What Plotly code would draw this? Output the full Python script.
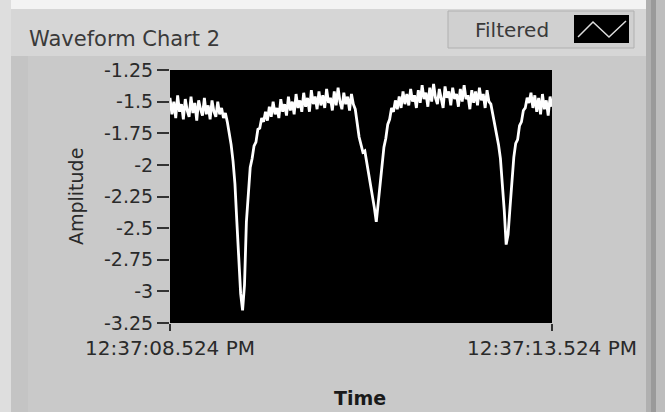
import plotly.graph_objects as go

# ---- data ----
t_step = 0.025
amplitude = [
    -1.47, -1.60, -1.50, -1.63, -1.45, -1.58, -1.52, -1.64, -1.48, -1.57,
    -1.62, -1.46, -1.59, -1.51, -1.65, -1.49, -1.56, -1.61, -1.47, -1.60,
    -1.53, -1.64, -1.49, -1.58, -1.62, -1.50, -1.60, -1.55, -1.63, -1.59,
    -1.66, -1.74, -1.84, -1.97, -2.15, -2.45, -2.80, -3.02, -3.15, -2.95,
    -2.45, -2.20, -2.02, -1.95, -1.85, -1.82, -1.72, -1.71, -1.63, -1.66,
    -1.58, -1.65, -1.54, -1.62, -1.50, -1.60, -1.55, -1.63, -1.48, -1.58,
    -1.52, -1.61, -1.46, -1.57, -1.50, -1.60, -1.44, -1.55, -1.49, -1.58,
    -1.43, -1.54, -1.47, -1.58, -1.41, -1.52, -1.46, -1.56, -1.42, -1.53,
    -1.45, -1.55, -1.40, -1.51, -1.47, -1.57, -1.42, -1.53, -1.39, -1.50,
    -1.56, -1.43, -1.52, -1.46, -1.57, -1.44, -1.52, -1.56, -1.66, -1.78,
    -1.84, -1.90, -1.89, -1.98, -2.04, -2.14, -2.22, -2.34, -2.45, -2.30,
    -2.12, -1.99, -1.86, -1.79, -1.68, -1.64, -1.55, -1.58, -1.49, -1.56,
    -1.46, -1.55, -1.42, -1.52, -1.44, -1.53, -1.40, -1.50, -1.45, -1.55,
    -1.41, -1.51, -1.37, -1.48, -1.43, -1.54, -1.39, -1.50, -1.36, -1.47,
    -1.52, -1.40, -1.49, -1.55, -1.38, -1.47, -1.42, -1.53, -1.39, -1.48,
    -1.44, -1.54, -1.40, -1.50, -1.37, -1.48, -1.45, -1.56, -1.41, -1.51,
    -1.42, -1.53, -1.39, -1.49, -1.44, -1.55, -1.41, -1.50, -1.52, -1.60,
    -1.65, -1.74, -1.84, -1.95, -2.14, -2.36, -2.63, -2.55, -2.34, -2.10,
    -1.94, -1.83, -1.80, -1.69, -1.66, -1.57, -1.55, -1.47, -1.51, -1.43,
    -1.55, -1.45, -1.58, -1.47, -1.60, -1.44, -1.56, -1.49, -1.61, -1.46,
    -1.54,
]
time_s = [round(i * t_step, 3) for i in range(len(amplitude))]

y_ticks = [-1.25, -1.5, -1.75, -2, -2.25, -2.5, -2.75, -3, -3.25]
y_tick_text = ["-1.25", "-1.5", "-1.75", "-2", "-2.25", "-2.5", "-2.75", "-3", "-3.25"]
x_ticks = [0, 5]
x_tick_text = ["12:37:08.524 PM", "12:37:13.524 PM"]

title_text = "Waveform Chart 2"
legend_text = "Filtered"
x_title = "Time"
y_title = "Amplitude"

# ---- layout geometry (pixels) ----
W, H = 665, 412
L, R, T, B = 170, 552, 70, 323
FONT = "DejaVu Sans"


def px(x):
    return (x - L) / (R - L)


def py(y):
    return (B - y) / (B - T)


fig = go.Figure()
fig.add_trace(go.Scatter(
    x=time_s, y=amplitude, mode="lines",
    line=dict(color="white", width=2.8),
    showlegend=False, hoverinfo="skip",
))

shapes = []


def rect(x0, y0, x1, y1, fill, line=None, layer="below"):
    shapes.append(dict(
        type="rect", xref="paper", yref="paper",
        x0=px(x0), x1=px(x1), y0=py(y1), y1=py(y0),
        fillcolor=fill, line=dict(width=0 if line is None else 1, color=line or fill),
        layer=layer,
    ))


# panel decorations
rect(0, 0, W, 9, "#f3f3f3")
rect(0, 9, W, 56, "#d6d6d6")
rect(0, 0, 11, H, "#dedede")
rect(11, 56, 28, H, "#c4c4c4")
rect(646, 0, 651, H, "#b0b0b0")
rect(651, 0, 656, H, "#9a9a9a")
rect(656, 0, W, H, "#bdbdbd")
# legend box
rect(448, 11, 634, 48, "#d0d0d0", line="#b0b0b0")
rect(574, 15, 629, 43, "#000000", layer="above")
shapes.append(dict(
    type="path", xref="paper", yref="paper",
    path="M {:.4f},{:.4f} L {:.4f},{:.4f} L {:.4f},{:.4f} L {:.4f},{:.4f}".format(
        px(578), py(37), px(593), py(22), px(609), py(37), px(626), py(21)),
    line=dict(color="#dddddd", width=1.5), layer="above",
))

annotations = [
    dict(text=title_text, xref="paper", yref="paper", x=px(27), y=py(39),
         xanchor="left", yanchor="middle", showarrow=False,
         font=dict(family=FONT, size=21, color="#3a3a3a")),
    dict(text=legend_text, xref="paper", yref="paper", x=px(551), y=py(30),
         xanchor="right", yanchor="middle", showarrow=False,
         font=dict(family=FONT, size=20, color="#3a3a3a")),
    dict(text="<b>" + x_title + "</b>", xref="paper", yref="paper",
         x=px(360), y=py(398), xanchor="center", yanchor="middle", showarrow=False,
         font=dict(family=FONT, size=19, color="#1a1a1a")),
    dict(text=y_title, xref="paper", yref="paper", textangle=-90,
         x=px(76), y=py(197), xanchor="center", yanchor="middle", showarrow=False,
         font=dict(family=FONT, size=19, color="#2a2a2a")),
]

fig.update_layout(
    width=W, height=H,
    margin=dict(l=L, r=W - R, t=T, b=H - B, autoexpand=False),
    paper_bgcolor="#c9c9c9",
    plot_bgcolor="black",
    shapes=shapes,
    annotations=annotations,
    font=dict(family=FONT, color="#2a2a2a"),
    xaxis=dict(
        range=[0, 5], tickvals=x_ticks, ticktext=x_tick_text,
        showgrid=False, zeroline=False, showline=False, automargin=False,
        ticks="outside", ticklen=7, tickwidth=1.5, tickcolor="#333333",
        tickfont=dict(family=FONT, size=20, color="#2a2a2a"),
        fixedrange=True,
    ),
    yaxis=dict(
        range=[-3.25, -1.25], tickvals=y_ticks, ticktext=y_tick_text,
        showgrid=False, zeroline=False, showline=False, automargin=False,
        ticks="outside", ticklen=12, tickwidth=1.5, tickcolor="#333333",
        tickfont=dict(family=FONT, size=19, color="#2a2a2a"),
        fixedrange=True,
    ),
)

fig.write_html("out.html", config={"displayModeBar": False},
               post_script="document.body.style.margin='0';")
